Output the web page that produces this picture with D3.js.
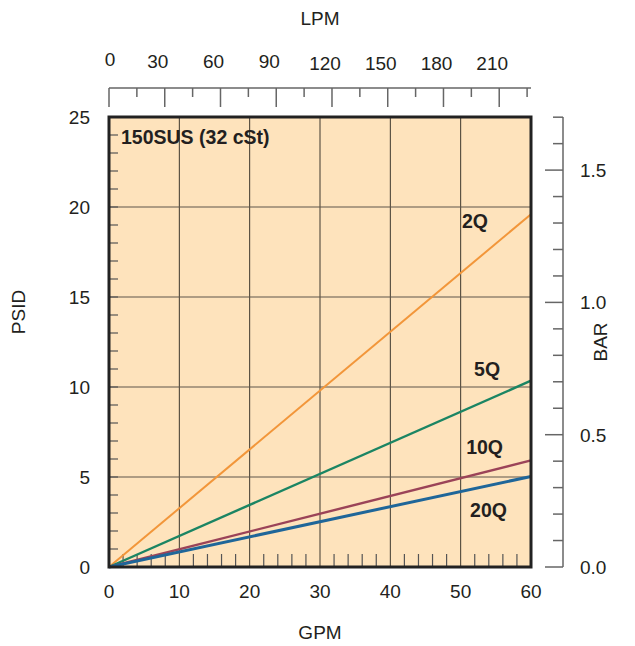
<!DOCTYPE html>
<html><head><meta charset="utf-8">
<script src="https://cdn.jsdelivr.net/npm/d3@7"></script>
<style>body{margin:0;background:#fff}svg text{font-family:"Liberation Sans",Arial,sans-serif}</style>
</head><body>
<svg id="c" width="635" height="646"></svg>
<script>
const seriesNames = ["2Q","5Q","10Q","20Q"];
const seriesColors = ["#f2963a","#1b8563","#9b4358","#1f6699"];
const gpm = [0, 60];
const psi2Q = [0, 19.6];
const psi5Q = [0, 10.35];
const psi10Q = [0, 5.92];
const psi20Q = [0, 5.03];
const labelGpm = [52.04, 53.75, 53.4, 53.96];
const labelPsi = [18.83, 10.61, 6.28, 2.78];
const gpmTicks = [0,10,20,30,40,50,60];
const psiTicks = [0,5,10,15,20,25];
const lpmTicks = [0,30,60,90,120,150,180,210];
const barTicks = [0.0,0.5,1.0,1.5];
const title = "150SUS (32 cSt)";

const svg = d3.select("#c");
const L=109,R=531,T=117,B=567;
const FS=19;
const x = d3.scaleLinear().domain([0,60]).range([L,R]);
const y = d3.scaleLinear().domain([0,25]).range([B,T]);
const xl = d3.scaleLinear().domain([0,60*3.785]).range([L,R]);
const yb = d3.scaleLinear().domain([0,25/14.7]).range([B,T]);

svg.append("rect").attr("x",L).attr("y",T).attr("width",R-L).attr("height",B-T).attr("fill","#fee3bc");

// grid
const g = svg.append("g");
g.selectAll(".vg").data(d3.range(10,60,10)).join("line")
  .attr("x1",d=>x(d)).attr("x2",d=>x(d)).attr("y1",T).attr("y2",B)
  .attr("stroke","#3e382e").attr("stroke-width",1);
g.selectAll(".hg").data(d3.range(5,25,5)).join("line")
  .attr("y1",d=>y(d)).attr("y2",d=>y(d)).attr("x1",L).attr("x2",R)
  .attr("stroke","#5e574b").attr("stroke-width",1.2);
// inner minor ticks
g.selectAll(".lt").data(d3.range(1,25)).join("line")
  .attr("y1",d=>y(d)).attr("y2",d=>y(d)).attr("x1",L).attr("x2",L+9)
  .attr("stroke","#555").attr("stroke-width",1.2);
g.selectAll(".bt").data(d3.range(2,60,2).filter(d=>d%10)).join("line")
  .attr("x1",d=>x(d)).attr("x2",d=>x(d)).attr("y1",B).attr("y2",B-13)
  .attr("stroke","#555").attr("stroke-width",1.2);

// lines
const allSeries = [psi2Q, psi5Q, psi10Q, psi20Q];
const widths = [2, 2.4, 2.4, 3];
const line = d3.line().x(d=>x(d[0])).y(d=>y(d[1]));
allSeries.forEach((s,i)=>{
  svg.append("path").datum(gpm.map((v,j)=>[v,s[j]])).attr("d",line)
    .attr("fill","none").attr("stroke",seriesColors[i]).attr("stroke-width",widths[i]);
});
seriesNames.forEach((n,i)=>{
  svg.append("text").attr("x",x(labelGpm[i])).attr("y",y(labelPsi[i])).attr("text-anchor","middle")
    .attr("font-size",19.5).attr("font-weight","bold").attr("fill","#231f20").text(n);
});
svg.append("text").attr("x",121).attr("y",144).attr("font-size",19.5).attr("font-weight","bold").attr("fill","#231f20").text(title);

// frame
svg.append("rect").attr("x",L).attr("y",T).attr("width",R-L).attr("height",B-T).attr("fill","none").attr("stroke","#222").attr("stroke-width",3);

// bottom axis labels
svg.selectAll(".bl").data(gpmTicks).join("text").attr("x",d=>x(d)).attr("y",598).attr("text-anchor","middle")
  .attr("font-size",FS).attr("fill","#231f20").text(d=>d);
// left axis labels
svg.selectAll(".ll").data(psiTicks).join("text").attr("x",90).attr("y",d=>y(d)+7).attr("text-anchor","end")
  .attr("font-size",FS).attr("fill","#231f20").text(d=>d);

// top LPM axis
const topG = svg.append("g");
topG.append("line").attr("x1",L).attr("x2",R).attr("y1",88).attr("y2",88).attr("stroke","#666").attr("stroke-width",1.5);
topG.selectAll(".tt").data(d3.range(0,228,15)).join("line")
  .attr("x1",d=>xl(d)).attr("x2",d=>xl(d)).attr("y1",88).attr("y2",d=>d%30?97:107)
  .attr("stroke","#666").attr("stroke-width",1.5);
topG.selectAll(".tl").data(lpmTicks).join("text").attr("x",(d,i)=>xl(d)+(i===0?1:-7)).attr("y",(d,i)=>i===0?66:(i>=4?70:68))
  .attr("text-anchor","middle").attr("font-size",FS).attr("fill","#231f20").text(d=>d);

// right BAR axis
const rg = svg.append("g");
rg.append("line").attr("x1",563).attr("x2",563).attr("y1",T).attr("y2",B).attr("stroke","#666").attr("stroke-width",1.5);
rg.selectAll(".rt").data(d3.range(0,18)).join("line")
  .attr("y1",d=>yb(d/10)).attr("y2",d=>yb(d/10)).attr("x1",d=>d%5?553:545).attr("x2",563)
  .attr("stroke","#666").attr("stroke-width",1.5);
rg.selectAll(".rl").data(barTicks).join("text").attr("x",580).attr("y",d=>yb(d)+7)
  .attr("font-size",FS).attr("fill","#231f20").text(d=>d.toFixed(1));

// axis titles
svg.append("text").attr("x",320).attr("y",25).attr("text-anchor","middle").attr("font-size",FS).attr("fill","#231f20").text("LPM");
svg.append("text").attr("x",320).attr("y",639).attr("text-anchor","middle").attr("font-size",FS).attr("fill","#231f20").text("GPM");
svg.append("text").attr("transform","translate(25,312) rotate(-90)").attr("text-anchor","middle").attr("font-size",FS).attr("fill","#231f20").text("PSID");
svg.append("text").attr("transform","translate(607,342) rotate(-90)").attr("text-anchor","middle").attr("font-size",FS).attr("fill","#231f20").text("BAR");
</script>
</body></html>
